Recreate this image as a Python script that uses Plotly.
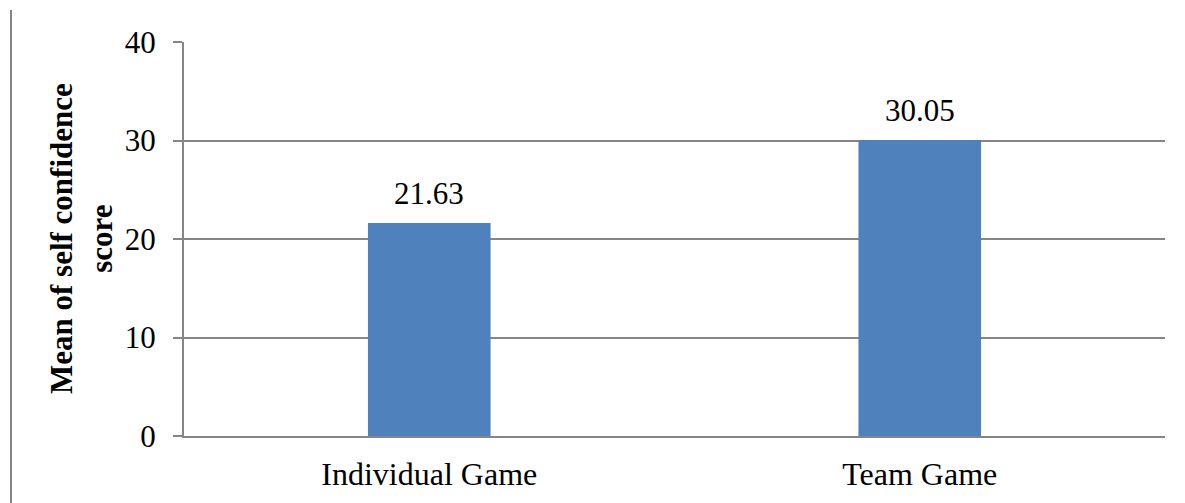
import plotly.graph_objects as go

categories = ["Individual Game", "Team Game"]
values = [21.63, 30.05]
value_labels = ["21.63", "30.05"]
y_ticks = [0, 10, 20, 30, 40]

W, H = 1185, 503
L, R, T, B = 184, 20, 42, 67
pw = W - L - R
FONT = "Liberation Serif, Times New Roman, serif"

fig = go.Figure()
fig.add_trace(go.Bar(
    x=categories, y=values,
    marker=dict(color="#4F81BD", line=dict(width=0)),
))

for c, v, t in zip(categories, values, value_labels):
    fig.add_annotation(
        x=c, y=v, text=t, showarrow=False,
        xanchor="center", yanchor="bottom", yshift=10,
        font=dict(family=FONT, size=31, color="#000000"),
    )

fig.update_layout(
    width=W, height=H,
    margin=dict(l=L, r=R, t=T, b=B),
    paper_bgcolor="white", plot_bgcolor="white",
    bargap=0.75,
    showlegend=False,
    font=dict(family=FONT, color="#000000"),
    xaxis=dict(
        showline=True, linecolor="#868686", linewidth=2,
        showgrid=False, ticks="",
        tickfont=dict(family=FONT, size=32, color="#000000"),
        ticklabelstandoff=9,
    ),
    yaxis=dict(
        range=[0, 40], tickvals=y_ticks,
        showline=True, linecolor="#868686", linewidth=2,
        showgrid=True, gridcolor="#868686", gridwidth=2,
        ticks="outside", ticklen=9, tickcolor="#868686", tickwidth=2,
        tickfont=dict(family=FONT, size=31, color="#000000"),
        ticklabelstandoff=11,
        zeroline=False,
    ),
)

fig.add_annotation(
    text="<b>Mean of self confidence</b><br><b>score</b>",
    xref="paper", yref="paper",
    x=(81 - L) / pw, y=0.5, xanchor="center", yanchor="middle",
    textangle=-90, showarrow=False,
    font=dict(family=FONT, size=31, color="#000000"),
)

fig.add_shape(
    type="line", xref="paper", yref="paper",
    x0=(11 - L) / pw, x1=(11 - L) / pw,
    y0=(H - B - 10) / (H - T - B), y1=-B / (H - T - B),
    line=dict(color="#868686", width=2),
)

fig.write_html("out.html")
